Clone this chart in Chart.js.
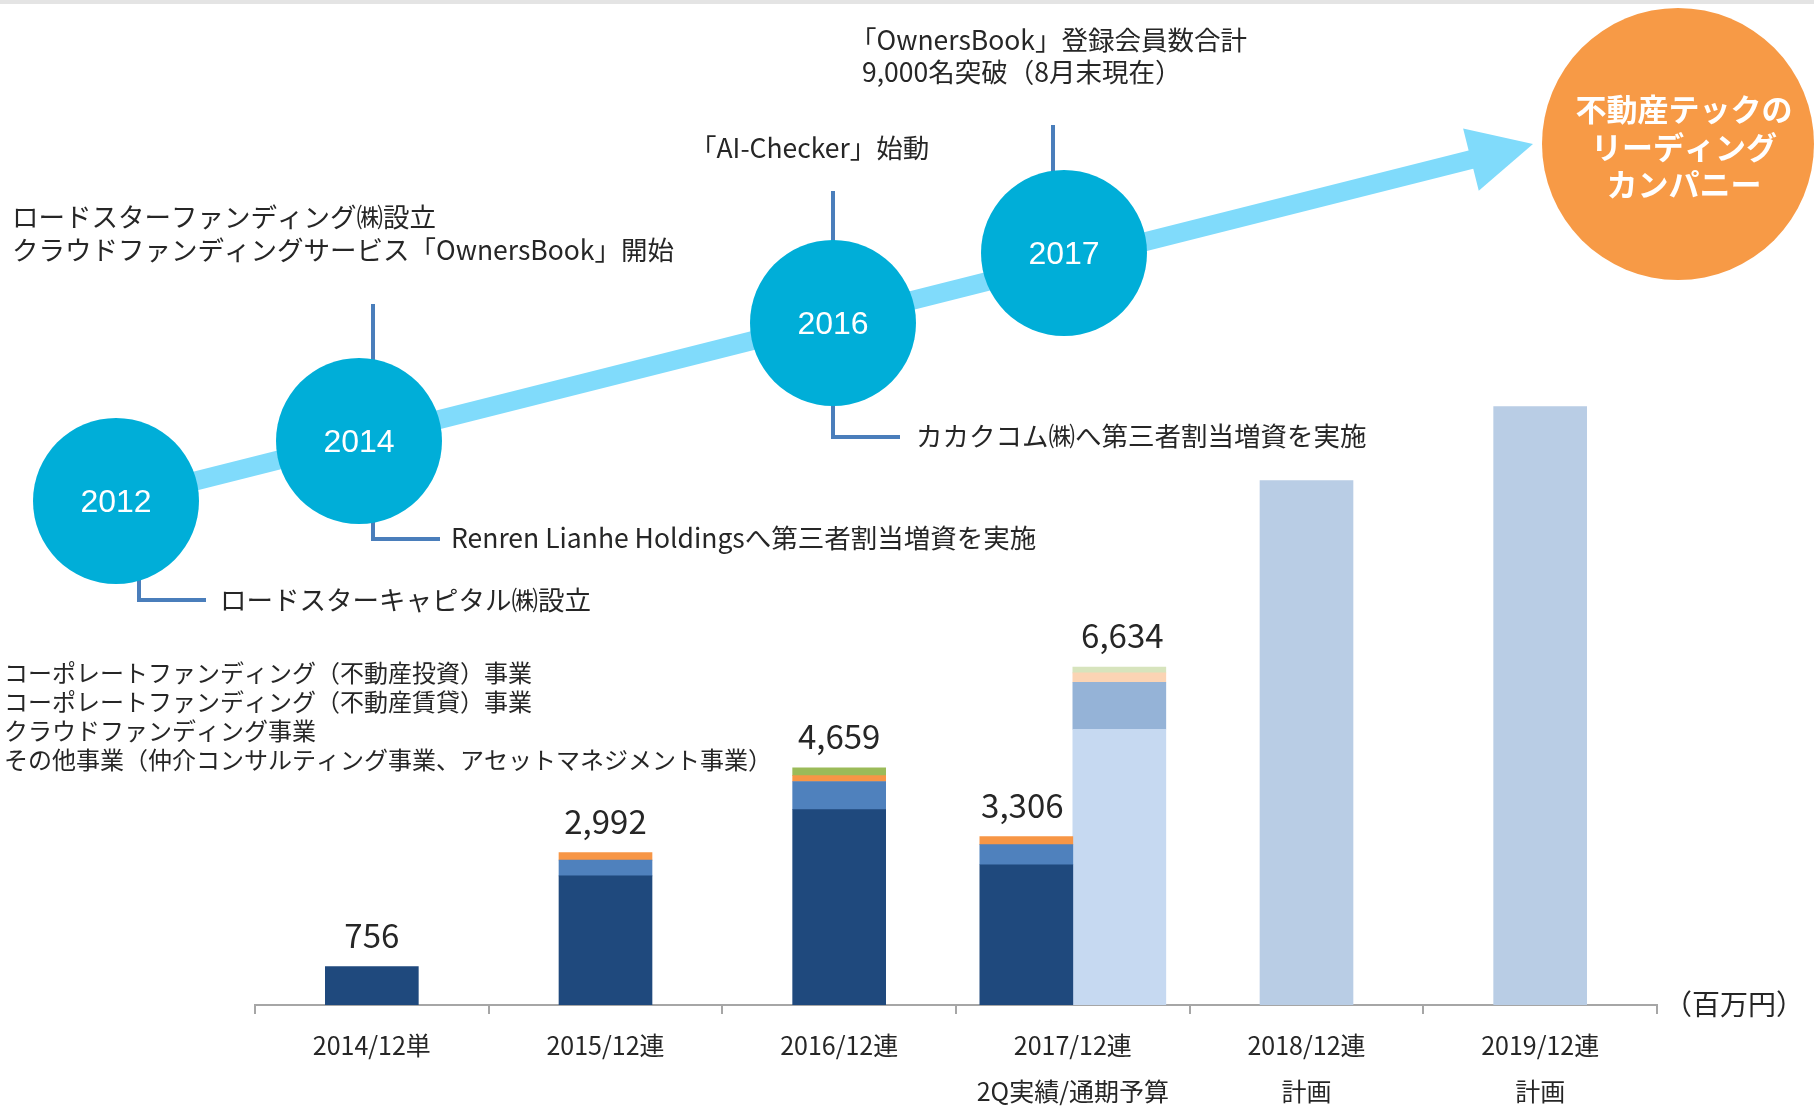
<!DOCTYPE html>
<html lang="ja">
<head>
    <meta charset="UTF-8">
    <title>売上高推移</title>
    <script src="https://cdn.jsdelivr.net/npm/chart.js"></script>
    <style>
        body { margin: 0; background: #fff; }
        #wrap { position: relative; width: 1814px; height: 1106px; }
    </style>
</head>
<body>
<div id="wrap">
    <canvas id="salesChart"></canvas>
</div>
<script>
// カテゴリ
var categories = [
    ["2014/12単"], ["2015/12連"], ["2016/12連"],
    ["2017/12連", "2Q実績/通期予算"], ["2018/12連", "計画"], ["2019/12連", "計画"]
];

// 実績（百万円）
var investActual = [756, 2535, 3837, 2755, null, null];   // 不動産投資
var rentActual   = [null, 309, 552, 394, null, null];     // 不動産賃貸
var crowdActual  = [null, 148, 116, 157, null, null];     // クラウドファンディング
var otherActual  = [null, null, 154, null, null, null];   // その他

// 2017 通期予算
var investBudget = [null, null, null, 5415, null, null];
var rentBudget   = [null, null, null, 923, null, null];
var crowdBudget  = [null, null, null, 185, null, null];
var otherBudget  = [null, null, null, 111, null, null];

// 計画
var planTotal = [null, null, null, null, 10300, 11750];

// 合計ラベル
var actualTotals = [756, 2992, 4659, 3306, null, null];
var budgetTotals = [null, null, null, 6634, null, null];

var legendLines = [
    "コーポレートファンディング（不動産投資）事業",
    "コーポレートファンディング（不動産賃貸）事業",
    "クラウドファンディング事業",
    "その他事業（仲介コンサルティング事業、アセットマネジメント事業）"
];

var JP = '"Noto Sans CJK JP", "Noto Sans", sans-serif';
var TXT = "#262626";

function fmt(n) { return n.toLocaleString("en-US"); }

// 合計値ラベル
var totalsPlugin = {
    id: "totals",
    afterDatasetsDraw: function(chart) {
        var ctx = chart.ctx;
        var y = chart.scales.y;
        ctx.save();
        ctx.font = "33px " + JP;
        ctx.fillStyle = TXT;
        ctx.textAlign = "center";
        ctx.textBaseline = "bottom";
        var aMeta = chart.getDatasetMeta(0);
        var bMeta = chart.getDatasetMeta(4);
        actualTotals.forEach(function(v, i) {
            if (v == null) return;
            var dx = i === 3 ? -4 : 0;
            ctx.fillText(fmt(v), aMeta.data[i].x + dx, y.getPixelForValue(v) - 15);
        });
        budgetTotals.forEach(function(v, i) {
            if (v == null) return;
            ctx.fillText(fmt(v), bMeta.data[i].x + 3, y.getPixelForValue(v) - 15);
        });
        ctx.restore();
    }
};

// 沿革（タイムライン）
var timelinePlugin = {
    id: "timeline",
    afterDraw: function(chart) {
        var ctx = chart.ctx;
        ctx.save();

        ctx.fillStyle = "#E4E4E4";
        ctx.fillRect(0, 0, 1814, 4);

        // 矢印
        var x0 = 116, y0 = 501, x1 = 1533, y1 = 144;
        var a = Math.atan2(y1 - y0, x1 - x0);
        var hl = 64, hw = 32;
        var bx = x1 - hl * Math.cos(a), by = y1 - hl * Math.sin(a);
        ctx.strokeStyle = "#80DBFB";
        ctx.lineWidth = 19;
        ctx.beginPath();
        ctx.moveTo(x0, y0);
        ctx.lineTo(bx + 4 * Math.cos(a), by + 4 * Math.sin(a));
        ctx.stroke();
        ctx.fillStyle = "#80DBFB";
        ctx.beginPath();
        ctx.moveTo(x1, y1);
        ctx.lineTo(bx - hw * Math.sin(a), by + hw * Math.cos(a));
        ctx.lineTo(bx + hw * Math.sin(a), by - hw * Math.cos(a));
        ctx.closePath();
        ctx.fill();

        // 引き出し線
        ctx.strokeStyle = "#4A7EBB";
        ctx.lineWidth = 4;
        function poly(pts) {
            ctx.beginPath();
            ctx.moveTo(pts[0][0], pts[0][1]);
            for (var k = 1; k < pts.length; k++) ctx.lineTo(pts[k][0], pts[k][1]);
            ctx.stroke();
        }
        poly([[139, 580], [139, 600], [206, 600]]);
        poly([[373, 304], [373, 362]]);
        poly([[373, 520], [373, 539], [440, 539]]);
        poly([[833, 191], [833, 244]]);
        poly([[833, 402], [833, 437], [900, 437]]);
        poly([[1053, 125], [1053, 174]]);

        // 年の円
        var circles = [["2012", 116, 501], ["2014", 359, 441], ["2016", 833, 323], ["2017", 1064, 253]];
        circles.forEach(function(c) {
            ctx.fillStyle = "#00AED8";
            ctx.beginPath();
            ctx.arc(c[1], c[2], 83, 0, Math.PI * 2);
            ctx.fill();
            ctx.fillStyle = "#fff";
            ctx.font = '32px "Liberation Sans", Arial, sans-serif';
            ctx.textAlign = "center";
            ctx.textBaseline = "middle";
            ctx.fillText(c[0], c[1], c[2] + 2);
        });

        // ゴールの円
        ctx.fillStyle = "#F79A46";
        ctx.beginPath();
        ctx.arc(1678, 144, 136, 0, Math.PI * 2);
        ctx.fill();
        ctx.fillStyle = "#fff";
        ctx.font = "bold 31px " + JP;
        ctx.fillText("不動産テックの", 1684, 109);
        ctx.fillText("リーディング", 1684, 147);
        ctx.fillText("カンパニー", 1684, 184);

        // 説明文
        ctx.fillStyle = TXT;
        ctx.textAlign = "left";
        ctx.textBaseline = "middle";
        ctx.font = "26.5px " + JP;
        ctx.fillText("「OwnersBook」登録会員数合計", 850, 40);
        ctx.fillText("9,000名突破（8月末現在）", 862, 72);
        ctx.fillText("「AI-Checker」始動", 690, 148);
        ctx.fillText("ロードスターファンディング㈱設立", 12, 217);
        ctx.fillText("クラウドファンディングサービス「OwnersBook」開始", 12, 250);
        ctx.fillText("カカクコム㈱へ第三者割当増資を実施", 916, 436);
        ctx.fillText("Renren Lianhe Holdingsへ第三者割当増資を実施", 451, 538);
        ctx.fillText("ロードスターキャピタル㈱設立", 220, 600);

        // 凡例テキスト
        ctx.font = "24px " + JP;
        legendLines.forEach(function(t, i) {
            ctx.fillText(t, 4, 673 + i * 29);
        });

        ctx.font = "28px " + JP;
        ctx.fillText("（百万円）", 1664, 1004);
        ctx.restore();
    }
};

var ctx = document.getElementById("salesChart").getContext("2d");

function ds(data, color, stack) {
    return { data: data, backgroundColor: color, stack: stack, barThickness: 93, skipNull: true, borderWidth: 0 };
}

var salesChart = new Chart(ctx, {
    type: "bar",
    data: {
        labels: categories,
        datasets: [
            ds(investActual, "#1F497D", "a"),
            ds(rentActual, "#4F81BD", "a"),
            ds(crowdActual, "#F79646", "a"),
            ds(otherActual, "#9BBB59", "a"),
            ds(investBudget, "#C6D9F1", "b"),
            ds(rentBudget, "#95B3D7", "b"),
            ds(crowdBudget, "#FBD4B4", "b"),
            ds(otherBudget, "#D7E4BD", "b"),
            ds(planTotal, "#B9CDE5", "a")
        ]
    },
    options: {
        responsive: true,
        maintainAspectRatio: false,
        animation: false,
        layout: { padding: { left: 255, right: 157, top: 343, bottom: 0 } },
        plugins: { legend: { display: false }, tooltip: { enabled: false } },
        scales: {
            x: {
                stacked: true,
                grid: { display: true, drawOnChartArea: false, drawTicks: true, tickLength: 9, color: "#A6A6A6", lineWidth: 2, offset: true },
                border: { display: true, color: "#A6A6A6", width: 2 },
                ticks: { color: TXT, padding: 8, font: { family: JP, size: 25, lineHeight: 1.84 }, maxRotation: 0 },
                afterFit: function(scale) { scale.height = 101; }
            },
            y: {
                stacked: true,
                display: false,
                min: 0,
                max: 13000
            }
        }
    },
    plugins: [totalsPlugin, timelinePlugin]
});
</script>
</body>
</html>
